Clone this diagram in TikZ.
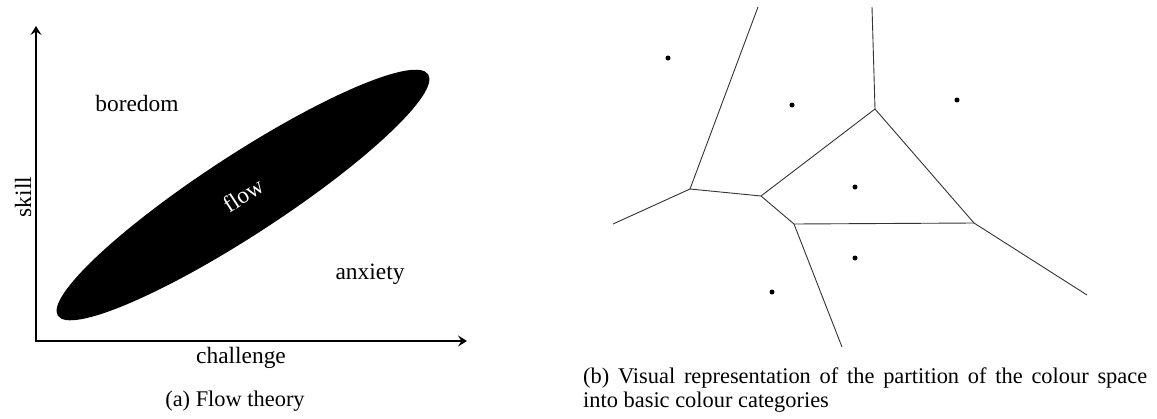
\documentclass[tikz,border=0pt]{standalone}
\usepackage{fontspec}
\setmainfont{Liberation Serif}
\usetikzlibrary{arrows.meta,shapes.geometric}
\begin{document}
\begin{tikzpicture}[x=1pt,y=-1pt,
  lbl/.style={font=\fontsize{23.4}{28}\selectfont, inner sep=0pt},
  captext/.style={font=\fontsize{22.4}{24}\selectfont, inner sep=0pt},
  axis/.style={line width=1.5pt, {Stealth[length=9pt,width=11pt,inset=3.5pt]}-{Stealth[length=9pt,width=11pt,inset=3.5pt]}},
  vedge/.style={line width=0.9pt, draw=black!80},
  site/.style={circle, fill=black, inner sep=0pt, minimum size=5pt}]
\useasboundingbox (0,0) rectangle (1157,418);

% ---------- (a) flow theory ----------
\coordinate (o) at (36,341);
\coordinate (ytip) at (36,26);
\coordinate (xtip) at (467,341);
\draw[axis] (ytip) -- (o) -- (xtip);

\node[ellipse, fill=black, inner sep=0pt, minimum width=442pt, minimum height=80pt,
      rotate=33.1, text=white, font=\fontsize{23.4}{28}\selectfont] (flow) at (243,195) {flow};

\node[lbl] (boredom) at (137,103) {boredom};
\node[lbl] (anxiety) at (370,274) {anxiety};
\node[lbl] (challenge) at (241,358) {challenge};
\node[lbl, rotate=90] (skill) at (23,197) {skill};

\node[captext, anchor=base] (capa) at (235,406) {(a) Flow theory};

% ---------- (b) Voronoi partition ----------
\coordinate (A) at (690,189);
\coordinate (B) at (761,196);
\coordinate (C) at (794,224);
\coordinate (D) at (875,109);
\coordinate (E) at (974,223);
\coordinate (a1) at (758,7);
\coordinate (a2) at (613,224);
\coordinate (d1) at (872,7);
\coordinate (c1) at (842,347);
\coordinate (e1) at (1087,295);

\draw[vedge] (a1) -- (A);
\draw[vedge] (A) -- (a2);
\draw[vedge] (A) -- (B);
\draw[vedge] (B) -- (C);
\draw[vedge] (B) -- (D);
\draw[vedge] (D) -- (d1);
\draw[vedge] (D) -- (E);
\draw[vedge] (C) -- (E);
\draw[vedge] (C) -- (c1);
\draw[vedge] (E) -- (e1);

\node[site] (s1) at (668,58) {};
\node[site] (s2) at (792,105) {};
\node[site] (s3) at (957,100) {};
\node[site] (s4) at (855,187) {};
\node[site] (s5) at (855,258) {};
\node[site] (s6) at (772,292) {};

\node[captext, anchor=north west, text width=564pt, align=justify] (capb) at (583,368)
  {(b) Visual representation of the partition of the colour space\linebreak into basic colour categories};
\end{tikzpicture}
\end{document}
